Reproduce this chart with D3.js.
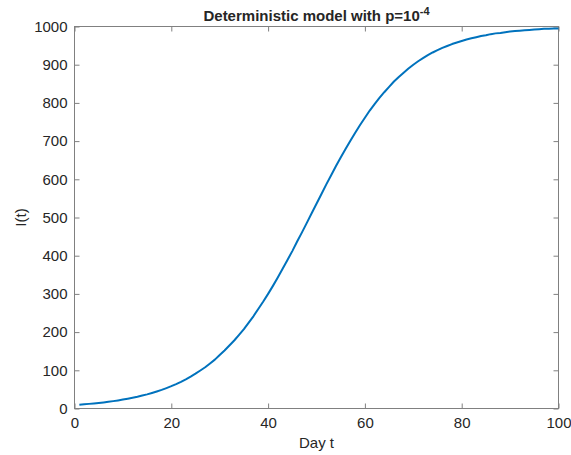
<!DOCTYPE html>
<html>
<head>
<meta charset="utf-8">
<script src="https://cdn.jsdelivr.net/npm/d3@7"></script>
<style>
  body { margin: 0; background: #fff; }
  svg text { font-family: "Liberation Sans", Arial, Helvetica, sans-serif; fill: #262626; }
</style>
</head>
<body>
<svg id="chart" width="571" height="455"></svg>
<script>
// days 1..100 and infected count I(t)
const days = d3.range(1, 101);
const infected = [
    10, 11, 12.1, 13.3, 14.6, 16, 17.6, 19.3, 21.2, 23.3,
    25.6, 28.1, 30.8, 33.8, 37, 40.6, 44.5, 48.7, 53.4, 58.4,
    63.9, 69.9, 76.4, 83.5, 91.1, 99.4, 108, 118, 128, 140,
    152, 165, 178, 193, 208, 225, 242, 261, 280, 300,
    321, 343, 366, 389, 412, 437, 461, 486, 511, 536,
    561, 586, 610, 634, 657, 679, 701, 722, 742, 761,
    780, 797, 813, 828, 842, 856, 868, 879, 890, 900,
    909, 917, 925, 932, 938, 944, 949, 954, 958, 962,
    966, 969, 972, 975, 977, 980, 982, 983, 985, 987,
    988, 989, 990, 991, 992, 993, 994, 994, 995, 995
];
const xTicks = [0, 20, 40, 60, 80, 100];
const yTicks = [0, 100, 200, 300, 400, 500, 600, 700, 800, 900, 1000];

const svg = d3.select('#chart');
const margin = { top: 26.5, right: 12.5, bottom: 46.5, left: 74.5 };
const w = 571 - margin.left - margin.right;
const h = 455 - margin.top - margin.bottom;
const axisColor = '#808080';
const textColor = '#262626';

const x = d3.scaleLinear().domain([0, 100]).range([0, w]);
const y = d3.scaleLinear().domain([0, 1000]).range([h, 0]);

const g = svg.append('g').attr('transform', `translate(${margin.left},${margin.top})`);

function styleAxis(sel) {
    sel.select('.domain').remove();
    sel.selectAll('.tick line').attr('stroke', axisColor).attr('stroke-width', 1);
    sel.selectAll('.tick text').style('font-size', '15px').attr('fill', textColor);
}

// bottom / left with labels, ticks pointing inward
g.append('g')
    .attr('transform', `translate(0,${h})`)
    .call(d3.axisBottom(x).tickValues(xTicks).tickFormat(d3.format('d')).tickSizeInner(-5).tickSizeOuter(0).tickPadding(9))
    .call(styleAxis);
g.append('g')
    .call(d3.axisLeft(y).tickValues(yTicks).tickFormat(d3.format('d')).tickSizeInner(-5).tickSizeOuter(0).tickPadding(7))
    .call(styleAxis);
// top / right ticks only
g.append('g')
    .call(d3.axisTop(x).tickValues(xTicks).tickSizeInner(-5).tickSizeOuter(0).tickFormat(''))
    .call(styleAxis);
g.append('g')
    .attr('transform', `translate(${w},0)`)
    .call(d3.axisRight(y).tickValues(yTicks).tickSizeInner(-5).tickSizeOuter(0).tickFormat(''))
    .call(styleAxis);

g.append('rect')
    .attr('width', w)
    .attr('height', h)
    .attr('fill', 'none')
    .attr('stroke', axisColor)
    .attr('stroke-width', 1);

const line = d3.line()
    .x((d, i) => x(days[i]))
    .y((d) => y(d));

g.append('path')
    .datum(infected)
    .attr('fill', 'none')
    .attr('stroke', '#0072BD')
    .attr('stroke-width', 2)
    .attr('stroke-linejoin', 'round')
    .attr('d', line);

// labels
svg.append('text')
    .attr('x', margin.left + w / 2)
    .attr('y', 444)
    .attr('text-anchor', 'middle')
    .attr('dominant-baseline', 'middle')
    .style('font-size', '15px')
    .text('Day t');

svg.append('text')
    .attr('transform', `translate(22,${margin.top + h / 2}) rotate(-90)`)
    .attr('text-anchor', 'middle')
    .attr('dominant-baseline', 'middle')
    .style('font-size', '15px')
    .text('I(t)');

const title = svg.append('text')
    .attr('x', margin.left + w / 2)
    .attr('y', 21)
    .attr('text-anchor', 'middle')
    .style('font-size', '15px')
    .style('font-weight', 'bold');
title.append('tspan').text('Deterministic model with p=10');
title.append('tspan').attr('dy', -6).style('font-size', '11px').text('-4');
</script>
</body>
</html>
